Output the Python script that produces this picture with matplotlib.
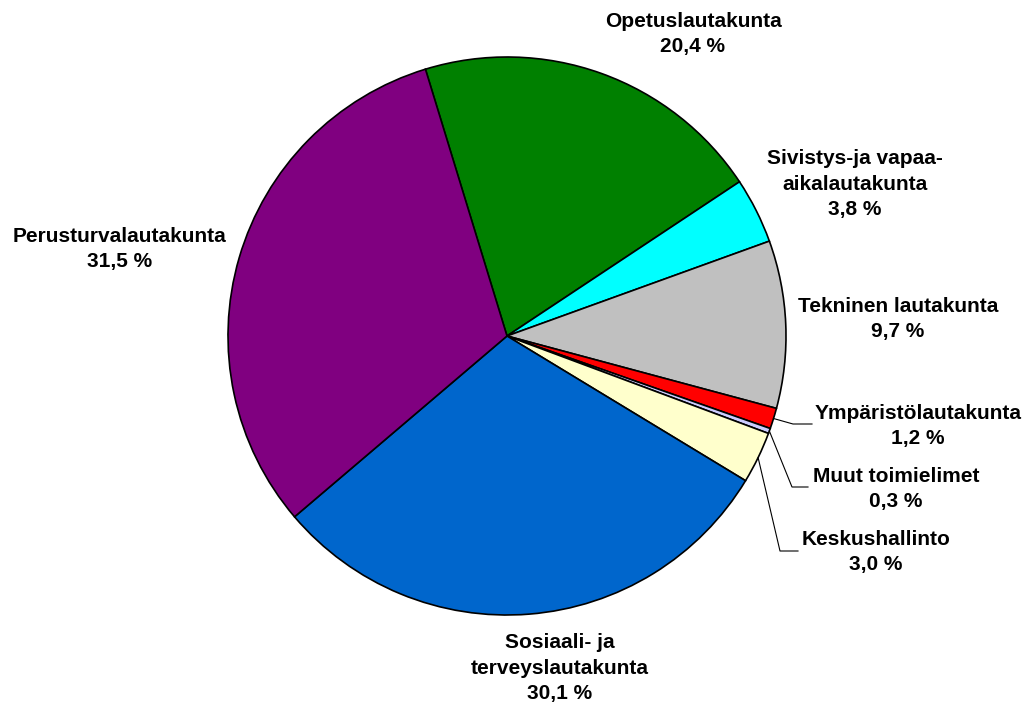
import matplotlib.pyplot as plt
import numpy as np

plt.rcParams['font.family'] = ['Liberation Sans', 'DejaVu Sans']

# data (clockwise order, starting from Opetuslautakunta)
names = ['Opetuslautakunta', 'Sivistys-ja vapaa-\naikalautakunta', 'Tekninen lautakunta',
         'Ympäristölautakunta', 'Muut toimielimet', 'Keskushallinto',
         'Sosiaali- ja\nterveyslautakunta', 'Perusturvalautakunta']
shares = [20.4, 3.8, 9.7, 1.2, 0.3, 3.0, 30.1, 31.5]
colors = ['#008000', '#00FFFF', '#C0C0C0', '#FF0000', '#CCCCFF', '#FFFFCC', '#0066CC', '#800080']

W, H = 1027, 704
cx, cy, r = 507, H - 336, 279

# label centres in pixel coords (y from top)
label_pos = [(693, 34), (855, 184), (898, 319), (918, 426), (896, 489), (876, 552),
             (560, 668), (120, 249)]
# leader elbows for the small slices: (x elbow, y elbow, x end)
leaders = {3: (793, 424, 812), 4: (792, 487, 808), 5: (780, 551, 798)}

fig = plt.figure(figsize=(W / 100, H / 100), dpi=100)
ax = fig.add_axes([0, 0, 1, 1])

wedges, _ = ax.pie(shares, colors=colors, startangle=107, counterclock=False,
                   center=(cx, cy), radius=r, frame=True,
                   wedgeprops=dict(edgecolor='black', linewidth=1.2))
ax.set_xlim(0, W)
ax.set_ylim(0, H)
ax.set_aspect('equal')
ax.axis('off')

for i, (name, val) in enumerate(zip(names, shares)):
    txt = name + '\n' + ('%.1f %%' % val).replace('.', ',')
    x, y = label_pos[i]
    ax.text(x, H - y, txt, ha='center', va='center', fontsize=15, fontweight='bold',
            linespacing=1.42, color='black')
    if i in leaders:
        w = wedges[i]
        mid = np.deg2rad((w.theta1 + w.theta2) / 2)
        sx, sy = cx + r * np.cos(mid), cy + r * np.sin(mid)
        ex, ey, endx = leaders[i]
        ax.plot([sx, ex, endx], [sy, H - ey, H - ey], color='black', lw=0.8)

fig.savefig('out.png', dpi=100)
